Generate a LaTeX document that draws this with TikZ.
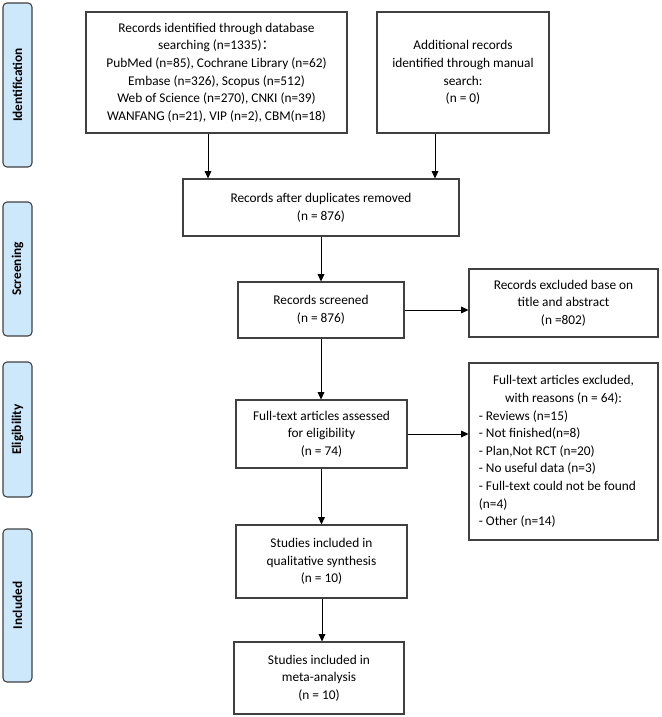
\documentclass[tikz,border=0pt]{standalone}
\usepackage{fontspec}
\setmainfont{Carlito}
\newfontfamily\cjk{Noto Sans CJK SC}
\usetikzlibrary{arrows.meta}
\definecolor{phasefill}{RGB}{205,232,250}
\definecolor{edgegray}{RGB}{64,64,64}
\begin{document}
\begin{tikzpicture}[x=0.75pt,y=-0.75pt,
 box/.style={draw=edgegray, line width=0.8pt, inner sep=0pt, align=center, font=\fontsize{10}{13.2}\selectfont},
 phase/.style={draw=edgegray, fill=phasefill, line width=0.8pt, rounded corners=3pt, rotate=90, minimum height=21.75pt, inner sep=0pt, font=\fontsize{10}{12}\selectfont\bfseries},
 arr/.style={-{Triangle[length=5.5pt,width=5pt]}, line width=0.6pt, black}]
\useasboundingbox (0,0) rectangle (661,717);
% phase labels
\node[phase, minimum width=123pt] (p1) at (17.5,85) {Identification};
\node[phase, minimum width=100.5pt] (p2) at (17.5,269) {Screening};
\node[phase, minimum width=101.25pt] (p3) at (17.5,429.5) {Eligibility};
\node[phase, minimum width=114.75pt] (p4) at (17.5,605.5) {Included};
% boxes
\node[box, minimum width=195.75pt, minimum height=90.75pt] (b1) at (216.5,72.5) {Records identified through database\\ searching (n=1335){\cjk ：}\\ PubMed (n=85), Cochrane Library (n=62)\\ Embase (n=326), Scopus (n=512)\\ Web of Science (n=270), CNKI (n=39)\\ WANFANG (n=21), VIP (n=2), CBM(n=18)};
\node[box, minimum width=129pt, minimum height=90.75pt] (b2) at (463,72.5) {Additional records\\ identified through manual\\ search:\\ (n = 0)};
\node[box, minimum width=207pt, minimum height=42.75pt] (b3) at (321,207.5) {Records after duplicates removed\\ (n = 876)};
\node[box, minimum width=124.5pt, minimum height=42pt] (b4) at (321,310) {Records screened\\ (n = 876)};
\node[box, minimum width=141.75pt, minimum height=51pt] (b5) at (563.5,303) {Records excluded base on\\ title and abstract\\ (n =802)};
\node[box, minimum width=128.25pt, minimum height=51pt] (b6) at (321.5,434) {Full-text articles assessed\\ for eligibility\\ (n = 74)};
\node[box, align=none, text width=127pt, minimum width=141.75pt, minimum height=132.75pt] (b7) at (563.5,451.5) {\centering Full-text articles excluded,\\ with reasons (n = 64):\par\raggedright - Reviews (n=15)\\ - Not finished(n=8)\\ - Plan,Not RCT (n=20)\\ - No useful data (n=3)\\ - Full-text could not be found\\ (n=4)\\ - Other (n=14)\par};
\node[box, minimum width=128.25pt, minimum height=54.75pt] (b8) at (321.5,561.5) {Studies included in\\ qualitative synthesis\\ (n = 10)};
\node[box, minimum width=127.5pt, minimum height=54pt] (b9) at (319,678) {Studies included in\\ meta-analysis\\ (n = 10)};
% connectors
\draw[arr] ([xshift=-6.375pt]b1.south) -- ([xshift=-6.375pt]b1.south |- b3.north);
\draw[arr] ([xshift=-21pt]b2.south) -- ([xshift=-21pt]b2.south |- b3.north);
\draw[arr] (b3.south) -- (b3.south |- b4.north);
\draw[arr] (b4.east) -- (b4.east -| b5.west);
\draw[arr] (b4.south) -- (b4.south |- b6.north);
\draw[arr] (b6.east) -- (b6.east -| b7.west);
\draw[arr] (b6.south) -- (b6.south |- b8.north);
\draw[arr] ([xshift=0.375pt]b8.south) -- ([xshift=0.375pt]b8.south |- b9.north);
\end{tikzpicture}
\end{document}
